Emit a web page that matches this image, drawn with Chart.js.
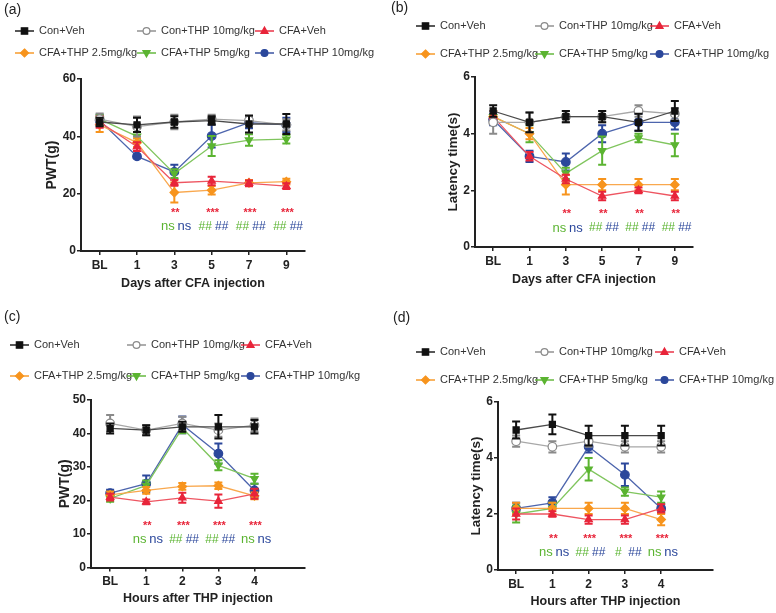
<!DOCTYPE html>
<html>
<head>
<meta charset="utf-8">
<script src="https://cdn.jsdelivr.net/npm/chart.js@4/dist/chart.umd.min.js"></script>
<style>
  body { margin: 0; background: #fff; }
  #wrap { position: relative; width: 776px; height: 613px; }
  canvas { position: absolute; }
</style>
</head>
<body>
<div id="wrap">
  <canvas id="panelA" width="388" height="300" style="left:0;top:0"></canvas>
  <canvas id="panelB" width="388" height="300" style="left:388px;top:0"></canvas>
  <canvas id="panelC" width="388" height="313" style="left:0;top:300px"></canvas>
  <canvas id="panelD" width="388" height="313" style="left:388px;top:300px"></canvas>
</div>
<script>
// categories and tick labels
const dayLabels = ['BL', '1', '3', '5', '7', '9'];
const hourLabels = ['BL', '1', '2', '3', '4'];
const pwtDayTicks = [0, 20, 40, 60];
const pwtHourTicks = [0, 10, 20, 30, 40, 50];
const latTicks = [0, 2, 4, 6];
const groupNames = ['Con+Veh', 'Con+THP 10mg/kg', 'CFA+Veh', 'CFA+THP 2.5mg/kg', 'CFA+THP 5mg/kg', 'CFA+THP 10mg/kg'];

// (a) PWT, days after CFA (mean / sem)
const pwtDayConVeh = [45, 44, 45, 45.5, 44.3, 44.3];
const pwtDayConThp = [46, 43.4, 45, 46, 45.5, 44];
const pwtDayCfaVeh = [45, 36.4, 23.8, 24.4, 23.6, 22.6];
const pwtDayThp25 = [44, 37.8, 20.4, 21.2, 23.8, 24.2];
const pwtDayThp5 = [46, 40, 27, 36.6, 38.7, 39];
const pwtDayThp10 = [45.5, 33, 27.6, 40.1, 44.8, 44];
const pwtDayConVehSem = [1.5, 2.5, 2, 1.5, 3, 3.5];
const pwtDayConThpSem = [2, 3.5, 2.5, 1.5, 1.5, 2];
const pwtDayCfaVehSem = [2, 1.5, 1, 1.5, 1, 1];
const pwtDayThp25Sem = [2.5, 1.5, 3.5, 1.5, 1, 1];
const pwtDayThp5Sem = [1.5, 1.5, 1.5, 3.5, 2, 1.5];
const pwtDayThp10Sem = [2, 0.5, 2.5, 4, 2, 2.5];

// (b) latency, days after CFA
const latDayConVeh = [4.8, 4.4, 4.6, 4.6, 4.4, 4.8];
const latDayConThp = [4.4, 4.4, 4.6, 4.6, 4.8, 4.7];
const latDayCfaVeh = [4.6, 3.2, 2.4, 1.8, 2.0, 1.8];
const latDayThp25 = [4.6, 4.0, 2.2, 2.2, 2.2, 2.2];
const latDayThp5 = [4.6, 4.0, 2.6, 3.4, 3.85, 3.6];
const latDayThp10 = [4.5, 3.2, 3.0, 4.0, 4.4, 4.4];
const latDayConVehSem = [0.2, 0.35, 0.2, 0.2, 0.3, 0.35];
const latDayConThpSem = [0.4, 0.35, 0.2, 0.2, 0.2, 0.2];
const latDayCfaVehSem = [0.2, 0.15, 0.15, 0.15, 0.1, 0.15];
const latDayThp25Sem = [0.2, 0.2, 0.35, 0.2, 0.2, 0.2];
const latDayThp5Sem = [0.2, 0.3, 0.2, 0.5, 0.15, 0.4];
const latDayThp10Sem = [0.2, 0.2, 0.3, 0.3, 0.3, 0.25];

// (c) PWT, hours after THP
const pwtHourConVeh = [41.5, 41, 42, 42, 42];
const pwtHourConThp = [43, 41, 43, 41, 42.5];
const pwtHourCfaVeh = [21, 19.6, 20.8, 19.8, 22];
const pwtHourThp25 = [21.7, 23, 24.2, 24.4, 21.4];
const pwtHourThp5 = [20.6, 24.5, 41.6, 30.5, 26.5];
const pwtHourThp10 = [22.2, 25, 42.6, 34, 23];
const pwtHourConVehSem = [1.5, 1.5, 1.5, 3.5, 2];
const pwtHourConThpSem = [2.5, 1.5, 2, 2, 2];
const pwtHourCfaVehSem = [1, 0.7, 1.5, 2, 1.5];
const pwtHourThp25Sem = [1, 1, 1, 1, 1];
const pwtHourThp5Sem = [1, 1.5, 1.5, 1.5, 1.5];
const pwtHourThp10Sem = [1, 2.5, 2.5, 3, 2];

// (d) latency, hours after THP
const latHourConVeh = [5.0, 5.2, 4.8, 4.8, 4.8];
const latHourConThp = [4.6, 4.4, 4.6, 4.4, 4.4];
const latHourCfaVeh = [2.0, 2.0, 1.8, 1.8, 2.2];
const latHourThp25 = [2.2, 2.2, 2.2, 2.2, 1.8];
const latHourThp5 = [2.0, 2.2, 3.6, 2.8, 2.6];
const latHourThp10 = [2.2, 2.4, 4.4, 3.4, 2.2];
const latHourConVehSem = [0.3, 0.35, 0.35, 0.35, 0.35];
const latHourConThpSem = [0.2, 0.2, 0.2, 0.2, 0.2];
const latHourCfaVehSem = [0.2, 0.1, 0.15, 0.15, 0.15];
const latHourThp25Sem = [0.2, 0.2, 0.2, 0.2, 0.2];
const latHourThp5Sem = [0.3, 0.2, 0.4, 0.15, 0.2];
const latHourThp10Sem = [0.2, 0.2, 0.2, 0.4, 0.15];

// significance marks (vs Con+Veh: stars; vs CFA+Veh: green = 5mg/kg, blue = 10mg/kg)
const starsPwtDay = ['', '', '**', '***', '***', '***'];
const marksPwtDay5 = ['', '', 'ns', '##', '##', '##'];
const marksPwtDay10 = ['', '', 'ns', '##', '##', '##'];
const starsLatDay = ['', '', '**', '**', '**', '**'];
const marksLatDay5 = ['', '', 'ns', '##', '##', '##'];
const marksLatDay10 = ['', '', 'ns', '##', '##', '##'];
const starsPwtHour = ['', '**', '***', '***', '***'];
const marksPwtHour5 = ['', 'ns', '##', '##', 'ns'];
const marksPwtHour10 = ['', 'ns', '##', '##', 'ns'];
const starsLatHour = ['', '**', '***', '***', '***'];
const marksLatHour5 = ['', 'ns', '##', '#', 'ns'];
const marksLatHour10 = ['', 'ns', '##', '##', 'ns'];

const FONT = '"Liberation Sans", Arial, sans-serif';
Chart.defaults.font.family = FONT;

const groupStyles = [
  { color: '#111111', line: '#4a4a4a', fill: '#111111', point: 'rect', rotation: 0 },
  { color: '#8a8a8a', line: '#a8a8a8', fill: '#ffffff', point: 'circle', rotation: 0 },
  { color: '#e8253a', line: '#ee5561', fill: '#e8253a', point: 'triangle', rotation: 0 },
  { color: '#f7941d', line: '#f9a84e', fill: '#f7941d', point: 'rectRot', rotation: 0 },
  { color: '#5bb431', line: '#80c55e', fill: '#5bb431', point: 'triangle', rotation: 180 },
  { color: '#2b479b', line: '#4d65ad', fill: '#2b479b', point: 'circle', rotation: 0 }
];

function makeDatasets(means, sems) {
  return means.map((vals, g) => ({
    label: groupNames[g],
    data: vals.map((v, i) => ({ x: i, y: v })),
    errors: sems[g],
    errColor: groupStyles[g].color,
    borderColor: groupStyles[g].line,
    borderWidth: 1.3,
    pointStyle: groupStyles[g].point,
    pointRotation: groupStyles[g].rotation,
    pointRadius: 4.3,
    pointBorderWidth: 1.2,
    pointBorderColor: groupStyles[g].color,
    pointBackgroundColor: groupStyles[g].fill,
    tension: 0
  }));
}

// vertical sem bars with caps, drawn just under each dataset's markers
const errorBars = {
  id: 'errorBars',
  beforeDatasetDraw(chart, args) {
    const ds = chart.data.datasets[args.index];
    if (!ds.errors) return;
    const ctx = chart.ctx, ys = chart.scales.y;
    ctx.save();
    ctx.strokeStyle = ds.errColor;
    ctx.lineWidth = 2;
    args.meta.data.forEach((pt, i) => {
      const v = ds.data[i].y, e = ds.errors[i];
      const top = ys.getPixelForValue(v + e), bot = ys.getPixelForValue(v - e);
      ctx.beginPath();
      ctx.moveTo(pt.x, top); ctx.lineTo(pt.x, bot);
      ctx.moveTo(pt.x - 4, top); ctx.lineTo(pt.x + 4, top);
      ctx.moveTo(pt.x - 4, bot); ctx.lineTo(pt.x + 4, bot);
      ctx.stroke();
    });
    ctx.restore();
  }
};

function drawMarker(ctx, st, x, y, r) {
  ctx.beginPath();
  if (st.point === 'rect') {
    ctx.rect(x - r * 0.8, y - r * 0.8, r * 1.6, r * 1.6);
  } else if (st.point === 'rectRot') {
    ctx.moveTo(x, y - r); ctx.lineTo(x + r, y); ctx.lineTo(x, y + r); ctx.lineTo(x - r, y); ctx.closePath();
  } else if (st.point === 'triangle') {
    const d = st.rotation ? -1 : 1;
    ctx.moveTo(x, y - d * r); ctx.lineTo(x + r * 0.9, y + d * r * 0.6); ctx.lineTo(x - r * 0.9, y + d * r * 0.6); ctx.closePath();
  } else {
    ctx.arc(x, y, r * 0.85, 0, Math.PI * 2);
  }
  ctx.fillStyle = st.fill; ctx.fill();
  ctx.strokeStyle = st.color; ctx.lineWidth = 1.2; ctx.stroke();
}

// panel tag, grid-style legend and significance marks
function decor(cfg) {
  return {
    id: 'decor',
    afterDraw(chart) {
      const ctx = chart.ctx;
      ctx.save();
      ctx.textBaseline = 'middle';
      ctx.textAlign = 'left';
      ctx.fillStyle = '#222';
      ctx.font = '14px ' + FONT;
      ctx.fillText(cfg.tag, cfg.tagPos[0], cfg.tagPos[1]);

      ctx.font = '11px ' + FONT;
      groupNames.forEach((name, g) => {
        const st = groupStyles[g];
        const x0 = cfg.legendCols[g % 3], y0 = cfg.legendRows[Math.floor(g / 3)];
        ctx.strokeStyle = st.color; ctx.lineWidth = 1.4;
        ctx.beginPath(); ctx.moveTo(x0, y0); ctx.lineTo(x0 + 19, y0); ctx.stroke();
        drawMarker(ctx, st, x0 + 9.5, y0, 4);
        ctx.fillStyle = '#333';
        ctx.fillText(name, x0 + 24, y0);
      });

      const xs = chart.scales.x, ys = chart.scales.y;
      const starY = ys.getPixelForValue(cfg.starValue), markY = ys.getPixelForValue(cfg.markValue);
      ctx.textAlign = 'center';
      cfg.stars.forEach((s, i) => {
        const px = xs.getPixelForValue(i);
        ctx.fillStyle = '#e8253a';
        ctx.font = 'bold 11px ' + FONT;
        ctx.fillText(s, px + 1, starY + 2);
        [[cfg.marks5[i], '#5bb431', -6.5], [cfg.marks10[i], '#2b479b', 10]].forEach(([t, c, dx]) => {
          ctx.fillStyle = c;
          ctx.font = (t === 'ns' ? '13px ' : '12px ') + FONT;
          ctx.fillText(t, px + dx, markY);
        });
      });
      ctx.restore();
    }
  };
}

function buildPanel(id, cfg) {
  new Chart(document.getElementById(id), {
    type: 'line',
    data: { datasets: makeDatasets(cfg.means, cfg.sems) },
    options: {
      responsive: false,
      animation: false,
      layout: { padding: cfg.pad },
      plugins: { legend: { display: false }, tooltip: { enabled: false } },
      scales: {
        x: {
          type: 'linear',
          min: cfg.xMin,
          max: cfg.xMax,
          afterBuildTicks: s => { s.ticks = cfg.labels.map((_, i) => ({ value: i })); },
          afterFit: s => { s.height = cfg.xHeight; },
          ticks: { callback: v => cfg.labels[v], font: { size: 12, weight: 'bold' }, color: '#222', padding: 3, maxRotation: 0, autoSkip: false },
          grid: { drawOnChartArea: false, drawTicks: true, tickLength: 4, color: '#222', lineWidth: 1.5 },
          border: { color: '#222', width: 2 },
          title: { display: true, text: cfg.xTitle, font: { size: 12.5, weight: 'bold' }, color: '#222', padding: { top: 0, bottom: cfg.xTitlePad } }
        },
        y: {
          min: 0,
          max: cfg.yTicks[cfg.yTicks.length - 1],
          afterBuildTicks: s => { s.ticks = cfg.yTicks.map(v => ({ value: v })); },
          afterFit: s => { s.width = cfg.yWidth; },
          ticks: { font: { size: 12, weight: 'bold' }, color: '#222', padding: 1 },
          grid: { drawOnChartArea: false, drawTicks: true, tickLength: 4, color: '#222', lineWidth: 1.5 },
          border: { color: '#222', width: 2 },
          title: { display: true, text: cfg.yTitle, font: { size: cfg.yTitleSize, weight: 'bold' }, color: '#222', padding: { top: cfg.yTitlePad, bottom: 0 } }
        }
      }
    },
    plugins: [errorBars, decor(cfg)]
  });
}

buildPanel('panelA', {
  labels: dayLabels, yTicks: pwtDayTicks,
  means: [pwtDayConVeh, pwtDayConThp, pwtDayCfaVeh, pwtDayThp25, pwtDayThp5, pwtDayThp10],
  sems: [pwtDayConVehSem, pwtDayConThpSem, pwtDayCfaVehSem, pwtDayThp25Sem, pwtDayThp5Sem, pwtDayThp10Sem],
  stars: starsPwtDay, marks5: marksPwtDay5, marks10: marksPwtDay10,
  xTitle: 'Days after CFA injection', yTitle: 'PWT(g)', yTitleSize: 14,
  pad: { left: 0, top: 79, right: 83, bottom: 0 }, xHeight: 49, yWidth: 81,
  xMin: -0.5, xMax: 5.5, xTitlePad: 9, yTitlePad: 43.8,
  tag: '(a)', tagPos: [4, 10], legendCols: [15, 137, 255], legendRows: [31, 53],
  starValue: 14, markValue: 8.5
});

buildPanel('panelB', {
  labels: dayLabels, yTicks: latTicks,
  means: [latDayConVeh, latDayConThp, latDayCfaVeh, latDayThp25, latDayThp5, latDayThp10],
  sems: [latDayConVehSem, latDayConThpSem, latDayCfaVehSem, latDayThp25Sem, latDayThp5Sem, latDayThp10Sem],
  stars: starsLatDay, marks5: marksLatDay5, marks10: marksLatDay10,
  xTitle: 'Days after CFA injection', yTitle: 'Latency time(s)', yTitleSize: 13.5,
  pad: { left: 0, top: 77, right: 83, bottom: 0 }, xHeight: 53, yWidth: 87,
  xMin: -0.5, xMax: 5.5, xTitlePad: 13, yTitlePad: 56.9,
  tag: '(b)', tagPos: [3, 8], legendCols: [28, 147, 262], legendRows: [26, 54],
  starValue: 1.25, markValue: 0.67
});

buildPanel('panelC', {
  labels: hourLabels, yTicks: pwtHourTicks,
  means: [pwtHourConVeh, pwtHourConThp, pwtHourCfaVeh, pwtHourThp25, pwtHourThp5, pwtHourThp10],
  sems: [pwtHourConVehSem, pwtHourConThpSem, pwtHourCfaVehSem, pwtHourThp25Sem, pwtHourThp5Sem, pwtHourThp10Sem],
  stars: starsPwtHour, marks5: marksPwtHour5, marks10: marksPwtHour10,
  xTitle: 'Hours after THP injection', yTitle: 'PWT(g)', yTitleSize: 14,
  pad: { left: 0, top: 100, right: 83, bottom: 0 }, xHeight: 45.5, yWidth: 91,
  xMin: -0.53, xMax: 5.4, xTitlePad: 7, yTitlePad: 56.9,
  tag: '(c)', tagPos: [4, 17], legendCols: [10, 127, 241], legendRows: [45, 76],
  starValue: 12.9, markValue: 8.4
});

buildPanel('panelD', {
  labels: hourLabels, yTicks: latTicks,
  means: [latHourConVeh, latHourConThp, latHourCfaVeh, latHourThp25, latHourThp5, latHourThp10],
  sems: [latHourConVehSem, latHourConThpSem, latHourCfaVehSem, latHourThp25Sem, latHourThp5Sem, latHourThp10Sem],
  stars: starsLatHour, marks5: marksLatHour5, marks10: marksLatHour10,
  xTitle: 'Hours after THP injection', yTitle: 'Latency time(s)', yTitleSize: 13.5,
  pad: { left: 0, top: 102, right: 63, bottom: 0 }, xHeight: 43, yWidth: 110,
  xMin: -0.5, xMax: 5.43, xTitlePad: 3.5, yTitlePad: 80.2,
  tag: '(d)', tagPos: [5, 18], legendCols: [28, 147, 267], legendRows: [52, 80],
  starValue: 1.17, markValue: 0.63
});
</script>
</body>
</html>
